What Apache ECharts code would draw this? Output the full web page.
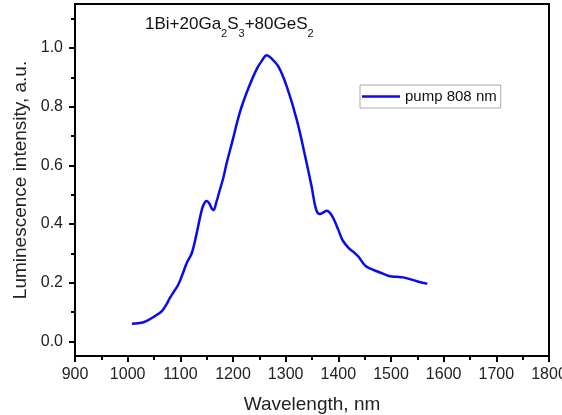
<!DOCTYPE html>
<html>
<head>
<meta charset="utf-8">
<script src="https://cdn.jsdelivr.net/npm/echarts@6/dist/echarts.min.js"></script>
<style>
html,body{margin:0;padding:0;background:#fff;}
#c{width:562px;height:415px;}
</style>
</head>
<body>
<div id="c"></div>
<script>
const wavelengths = [1008,1020,1030,1040,1049,1057,1065,1073,1080,1088,1096,1104,1112,1122,1131,1141,1146,1150,1155,1160,1163,1168,1175,1182,1188,1200,1208,1216,1229,1245,1255,1264,1272,1286,1302,1321,1337,1349,1358,1365,1372,1378,1384,1391,1400,1409,1422,1430,1438,1451,1462,1473,1486,1498,1511,1523,1536,1549,1560,1569];
const intensity = [0.060,0.062,0.065,0.073,0.083,0.092,0.103,0.124,0.147,0.170,0.193,0.228,0.266,0.302,0.368,0.450,0.472,0.478,0.470,0.452,0.448,0.472,0.516,0.560,0.608,0.690,0.748,0.798,0.862,0.928,0.957,0.975,0.966,0.937,0.869,0.756,0.631,0.530,0.448,0.434,0.440,0.445,0.438,0.418,0.380,0.342,0.314,0.303,0.289,0.258,0.247,0.239,0.230,0.222,0.220,0.218,0.212,0.205,0.200,0.196];
const yMajorTicks = [0, 0.2, 0.4, 0.6, 0.8, 1.0];
const yMinorTicks = [0.1, 0.3, 0.5, 0.7, 0.9, 1.1];
const seriesName = 'pump 808 nm';

const chart = echarts.init(document.getElementById('c'), null, {renderer: 'canvas'});
const font = 'Liberation Sans, Arial, sans-serif';
const data = wavelengths.map((w, i) => [w, intensity[i]]);

chart.setOption({
  animation: false,
  backgroundColor: '#fff',
  grid: {left: 75, right: 13, top: 4, bottom: 59, containLabel: false, outerBoundsMode: 'none',
    show: true, borderColor: '#000', borderWidth: 2, backgroundColor: 'transparent'},
  legend: {
    left: 360, top: 85, orient: 'horizontal',
    padding: [3, 4, 3, 2],
    icon: 'rect',
    itemWidth: 38, itemHeight: 2.5, itemGap: 5,
    borderColor: '#aaa', borderWidth: 1, borderRadius: 0,
    textStyle: {fontFamily: font, fontSize: 15, color: '#111', lineHeight: 17},
    data: [{name: seriesName}]
  },
  xAxis: {
    type: 'value', min: 900, max: 1800, interval: 100,
    name: 'Wavelength, nm', nameLocation: 'middle', nameGap: 39,
    nameTextStyle: {fontFamily: font, fontSize: 19, color: '#222'},
    axisLine: {show: true, onZero: false, lineStyle: {color: '#000', width: 2}},
    axisTick: {show: true, length: 6, lineStyle: {color: '#000', width: 2}},
    minorTick: {show: true, splitNumber: 2, length: 4, lineStyle: {color: '#000', width: 2}},
    axisLabel: {fontFamily: font, fontSize: 16, color: '#222', margin: 11, formatter: v => String(v)},
    splitLine: {show: false}
  },
  yAxis: [{
    type: 'value', min: -0.05, max: 1.15, position: 'left',
    name: 'Luminescence intensity, a.u.', nameLocation: 'middle', nameGap: 42,
    nameTextStyle: {fontFamily: font, fontSize: 19, color: '#222'},
    axisLine: {show: true, onZero: false, lineStyle: {color: '#000', width: 2}},
    axisTick: {show: true, length: 6, customValues: yMajorTicks, lineStyle: {color: '#000', width: 2}},
    axisLabel: {fontFamily: font, fontSize: 16, color: '#222', margin: 12, customValues: yMajorTicks,
      formatter: v => v.toFixed(1)},
    splitLine: {show: false}
  }, {
    type: 'value', min: -0.05, max: 1.15, position: 'left', offset: 0,
    axisLine: {show: false},
    axisTick: {show: true, length: 4, customValues: yMinorTicks, lineStyle: {color: '#000', width: 2}},
    axisLabel: {show: false},
    splitLine: {show: false}
  }],
  graphic: [{
    type: 'text', left: 145, top: 16,
    style: {
      text: '1Bi+20Ga{s|2}S{s|3}+80GeS{s|2}',
      fontFamily: font, fontSize: 17, fill: '#111',
      rich: {s: {fontSize: 11, fontFamily: font, verticalAlign: 'bottom', padding: [0, 0, -6, 0]}}
    }
  }],
  series: [{
    name: seriesName, type: 'line', data: data,
    yAxisIndex: 0,
    smooth: 0.4, symbol: 'none', showSymbol: false,
    lineStyle: {color: '#0a0aee', width: 2.5},
    itemStyle: {color: '#0a0aee'}
  }]
});
</script>
</body>
</html>
